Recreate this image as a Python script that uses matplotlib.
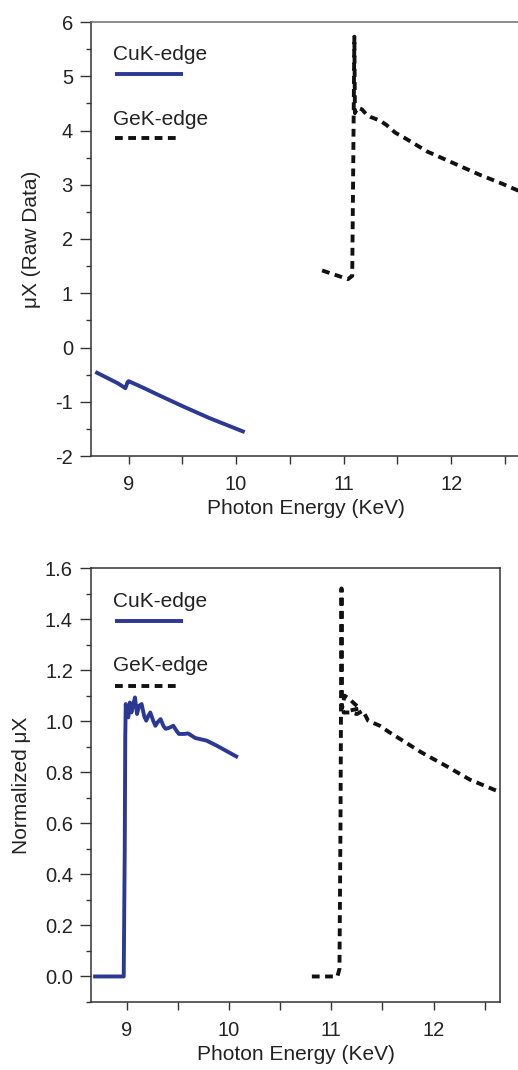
import numpy as np
import matplotlib
matplotlib.use('Agg')
from matplotlib import pyplot as plt
from matplotlib.ticker import MultipleLocator

plt.rcParams['font.family'] = ['Liberation Sans', 'DejaVu Sans']
plt.rcParams['axes.unicode_minus'] = False

# raw data panel
cu_raw_x = [8.69, 8.80, 8.90, 8.97, 8.99, 9.00, 9.05, 9.10, 9.15, 9.25, 9.50, 9.75, 10.08]
cu_raw_y = [-0.45, -0.56, -0.66, -0.75, -0.64, -0.62, -0.665, -0.71, -0.755, -0.85, -1.08, -1.30, -1.56]

ge_raw_x = [10.80, 10.92, 11.04, 11.08, 11.09, 11.10, 11.105, 11.13, 11.17, 11.21, 11.25,
            11.34, 11.40, 11.48, 11.57, 11.78, 12.02, 12.27, 12.45, 12.65]
ge_raw_y = [1.42, 1.34, 1.26, 1.32, 3.50, 5.73, 4.32, 4.42, 4.39, 4.30, 4.25,
            4.18, 4.10, 3.96, 3.86, 3.61, 3.40, 3.18, 3.04, 2.87]

# normalized panel
cu_norm_x = [8.69, 8.80, 8.90, 8.97, 8.98, 8.985, 8.99, 9.00, 9.015, 9.03, 9.045, 9.06, 9.08,
             9.10, 9.12, 9.145, 9.17, 9.19, 9.21, 9.23, 9.26, 9.28, 9.30, 9.33, 9.36, 9.38,
             9.42, 9.455, 9.49, 9.51, 9.56, 9.60, 9.67, 9.78, 9.88, 9.98, 10.07]
cu_norm_y = [0.0, 0.0, 0.0, 0.0, 0.50, 0.94, 1.067, 1.02, 1.015, 1.073, 1.034, 1.06, 1.093,
             1.028, 1.06, 1.067, 1.02, 1.002, 1.02, 1.034, 1.0, 0.982, 0.995, 1.008, 0.98, 0.970,
             0.975, 0.982, 0.96, 0.950, 0.950, 0.952, 0.934, 0.924, 0.904, 0.882, 0.862]

ge_norm_x = [10.81, 10.95, 11.06, 11.08, 11.09, 11.10, 11.105, 11.13, 11.18, 11.23, 11.28,
             11.16, 11.12, 11.20, 11.25, 11.31, 11.36, 11.475, 11.57, 11.67, 11.88,
             12.13, 12.355, 12.65]
ge_norm_y = [0.0, 0.0, 0.0, 0.03, 0.60, 1.52, 1.05, 1.10, 1.086, 1.067, 1.05,
             1.04, 1.034, 1.034, 1.028, 1.041, 1.002, 0.982, 0.956, 0.931, 0.878,
             0.823, 0.771, 0.722]

xticks = [9, 10, 11, 12]

blue = '#2b3894'
txt = '#222222'
dash = (0, (2.0, 1.4))

fig = plt.figure(figsize=(5.18, 10.70), dpi=100)
ax1 = fig.add_axes([91/518, 1-456/1070, 430/518, 434/1070])
ax2 = fig.add_axes([91/518, 1-1002/1070, 409/518, 434/1070])

def style(ax, ylab):
    ax.set_xlim(8.65, 12.65)
    ax.set_xticks(xticks)
    ax.xaxis.set_minor_locator(MultipleLocator(0.5))
    ax.tick_params(axis='x', which='both', direction='out', length=5.5, width=1.0,
                   colors='#333333', labelcolor=txt, labelsize=14.5, pad=8)
    ax.tick_params(axis='y', which='major', direction='out', length=8, width=1.0,
                   colors='#333333', labelcolor=txt, labelsize=14.5, pad=5)
    ax.tick_params(axis='y', which='minor', direction='out', length=3.8, width=1.0,
                   colors='#333333')
    ax.set_xlabel('Photon Energy (KeV)', fontsize=15, color=txt, labelpad=4)
    ax.set_ylabel(ylab, fontsize=15, color=txt, labelpad=10)
    for s in ax.spines.values():
        s.set_linewidth(1.1)
        s.set_color('#333333')

# top panel
ax1.plot(cu_raw_x, cu_raw_y, color=blue, lw=2.8, solid_capstyle='butt')
ax1.plot(ge_raw_x, ge_raw_y, color='#111111', lw=2.8, linestyle=dash, dash_capstyle='butt')
ax1.set_ylim(-2, 6)
ax1.yaxis.set_major_locator(MultipleLocator(1))
ax1.yaxis.set_minor_locator(MultipleLocator(0.5))
style(ax1, 'μX (Raw Data)')
ax1.spines['top'].set_color('#6e6e6e')
ax1.spines['right'].set_visible(False)

ax1.text(0.051, 0.926, 'CuK-edge', transform=ax1.transAxes, fontsize=15, color=txt, va='center')
ax1.plot([0.056, 0.214], [0.880, 0.880], transform=ax1.transAxes, color=blue, lw=2.8,
         solid_capstyle='butt')
ax1.text(0.051, 0.776, 'GeK-edge', transform=ax1.transAxes, fontsize=15, color=txt, va='center')
ax1.plot([0.056, 0.202], [0.733, 0.733], transform=ax1.transAxes, color='#111111', lw=2.8,
         linestyle=dash, dash_capstyle='butt')

# bottom panel
ax2.plot(cu_norm_x, cu_norm_y, color=blue, lw=2.8, solid_joinstyle='round')
ax2.plot(ge_norm_x, ge_norm_y, color='#111111', lw=2.8, linestyle=dash, dash_capstyle='butt')
ax2.set_ylim(-0.1, 1.6)
ax2.yaxis.set_major_locator(MultipleLocator(0.2))
ax2.yaxis.set_minor_locator(MultipleLocator(0.1))
ax2.yaxis.set_major_formatter(plt.FormatStrFormatter('%.1f'))
style(ax2, 'Normalized μX')

ax2.text(0.054, 0.922, 'CuK-edge', transform=ax2.transAxes, fontsize=15, color=txt, va='center')
ax2.plot([0.059, 0.225], [0.878, 0.878], transform=ax2.transAxes, color=blue, lw=2.8,
         solid_capstyle='butt')
ax2.text(0.054, 0.776, 'GeK-edge', transform=ax2.transAxes, fontsize=15, color=txt, va='center')
ax2.plot([0.059, 0.213], [0.728, 0.728], transform=ax2.transAxes, color='#111111', lw=2.8,
         linestyle=dash, dash_capstyle='butt')

fig.savefig('out.png', dpi=100)
